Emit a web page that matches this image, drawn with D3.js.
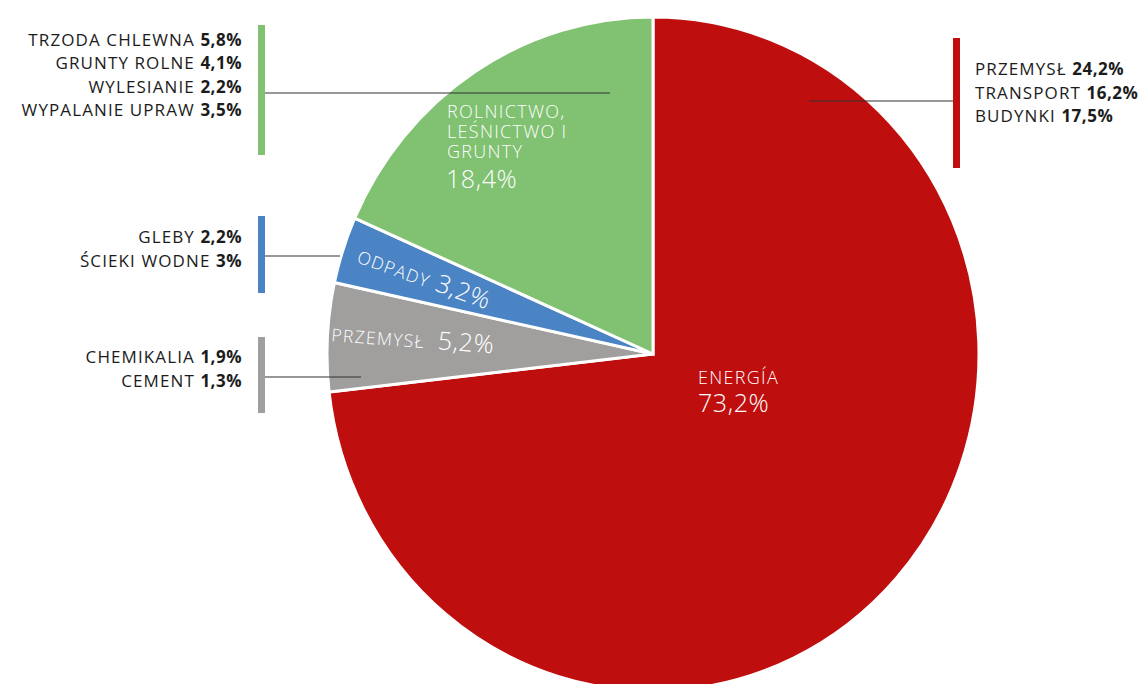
<head>
  <meta charset="UTF-8">
  <script src="https://d3js.org/d3.v7.min.js"></script>
</head>
<body style="margin:0;background:#fff">
  <svg id="pieSVG"></svg>
</body>
<style>
  #pieSVG text { font-family: 'Open Sans', 'Noto Sans', sans-serif; }
  .callout { font-size: 17px; fill: #1c1c1c; letter-spacing: 1.1px; }
  .callout tspan.val { font-weight: 700; letter-spacing: 0.5px; }
  .inlabel { fill: #fff; font-weight: 300; letter-spacing: 1.3px; }
</style>
<script type="text/javascript">
  // main categories
  const categories = ["ENERGÍA", "PRZEMYSŁ", "ODPADY", "ROLNICTWO, LEŚNICTWO I GRUNTY"];
  const values = [73.2, 5.2, 3.2, 18.4];
  const colors = ["#BF0E0E", "#A09F9E", "#4B84C4", "#80C172"];

  // breakdowns shown next to each slice
  const energyItems = ["PRZEMYSŁ", "TRANSPORT", "BUDYNKI "];
  const energyValues = ["24,2%", "16,2%", "17,5%"];
  const industryItems = ["CHEMIKALIA", "CEMENT"];
  const industryValues = ["1,9%", "1,3%"];
  const wasteItems = ["GLEBY", "ŚCIEKI WODNE"];
  const wasteValues = ["2,2%", "3%"];
  const agriItems = ["TRZODA CHLEWNA", "GRUNTY ROLNE", "WYLESIANIE", "WYPALANIE UPRAW"];
  const agriValues = ["5,8%", "4,1%", "2,2%", "3,5%"];

  const width = 1143, height = 684;
  const cx = 653, cy = 354, rx = 326, ry = 337;

  const svg = d3.select('#pieSVG')
    .attr('width', width)
    .attr('height', height);

  const data = categories.map((c, i) => ({ name: c, value: values[i], color: colors[i] }));

  const pie = d3.pie().sort(null).value(d => d.value).startAngle(0).endAngle(Math.PI * 2);
  const arcs = pie(data);
  const arc = d3.arc().innerRadius(0).outerRadius(rx);

  const pieG = svg.append('g')
    .attr('transform', `translate(${cx},${cy}) scale(1,${ry / rx})`);

  pieG.selectAll('path')
    .data(arcs)
    .join('path')
    .attr('d', arc)
    .attr('fill', d => d.data.color)
    .attr('stroke', '#fff')
    .attr('stroke-width', 3)
    .attr('vector-effect', 'non-scaling-stroke');

  // callout groups: bar + line + text lines
  const callouts = [
    { items: agriItems, vals: agriValues, color: colors[3], side: 'left', barX: 258, y0: 25, y1: 155, lineY: 93, lineEnd: 610, textY: 45.5 },
    { items: wasteItems, vals: wasteValues, color: colors[2], side: 'left', barX: 258, y0: 216, y1: 293, lineY: 256, lineEnd: 340, textY: 243 },
    { items: industryItems, vals: industryValues, color: colors[1], side: 'left', barX: 258, y0: 337, y1: 413, lineY: 377, lineEnd: 361, textY: 363 },
    { items: energyItems, vals: energyValues, color: colors[0], side: 'right', barX: 953, y0: 38, y1: 168, lineY: 101, lineEnd: 809, textY: 75 }
  ];
  const lineH = 23.5;

  callouts.forEach(c => {
    const g = svg.append('g');
    g.append('rect')
      .attr('x', c.barX).attr('y', c.y0)
      .attr('width', 7).attr('height', c.y1 - c.y0)
      .attr('fill', c.color);
    const x0 = c.side === 'left' ? c.barX + 7 : c.lineEnd;
    const x1 = c.side === 'left' ? c.lineEnd : c.barX;
    g.append('line')
      .attr('x1', x0).attr('x2', x1)
      .attr('y1', c.lineY).attr('y2', c.lineY)
      .attr('stroke', '#333').attr('stroke-width', 1.2);
    const tx = c.side === 'left' ? 242 : 975;
    const t = g.selectAll('text.callout')
      .data(c.items)
      .join('text')
      .attr('class', 'callout')
      .attr('x', tx)
      .attr('y', (d, i) => c.textY + i * lineH)
      .attr('text-anchor', c.side === 'left' ? 'end' : 'start');
    t.append('tspan').text(d => d + ' ');
    t.append('tspan').attr('class', 'val').text((d, i) => c.vals[i]);
  });

  // labels inside slices
  const inG = svg.append('g').attr('class', 'inlabel');

  // Energia
  inG.append('text').attr('x', cx + 45).attr('y', cy + 30).attr('font-size', 18).text(categories[0]);
  inG.append('text').attr('x', cx + 45).attr('y', cy + 58).attr('font-size', 25).attr('letter-spacing', 0.6).text('73,2%');

  // Rolnictwo
  const agriLines = ["ROLNICTWO,", "LEŚNICTWO I", "GRUNTY"];
  inG.selectAll('text.agri')
    .data(agriLines)
    .join('text')
    .attr('class', 'agri')
    .attr('x', cx - 206)
    .attr('y', (d, i) => cy - 236 + i * 20)
    .attr('font-size', 18)
    .text(d => d);
  inG.append('text').attr('x', cx - 207).attr('y', cy - 166).attr('font-size', 25).attr('letter-spacing', 0.6).text('18,4%');

  // Przemysł (rotated along the slice)
  const midDeg = a => ((a.startAngle + a.endAngle) / 2) * 180 / Math.PI - 270;
  const pz = inG.append('text')
    .attr('transform', `translate(${cx - 322},${cy - 13}) rotate(${midDeg(arcs[1]) + 1.5})`);
  pz.append('tspan').attr('font-size', 17.5).text('PRZEMYSŁ');
  pz.append('tspan').attr('font-size', 25).attr('dx', 13).attr('letter-spacing', 0.6).text('5,2%');

  // Odpady
  const od = inG.append('text')
    .attr('transform', `translate(${cx - 297},${cy - 92}) rotate(${midDeg(arcs[2]) + 2})`);
  od.append('tspan').attr('font-size', 17.5).text('ODPADY');
  od.append('tspan').attr('font-size', 25).attr('dx', 7).attr('letter-spacing', 0.6).text('3,2%');
</script>
